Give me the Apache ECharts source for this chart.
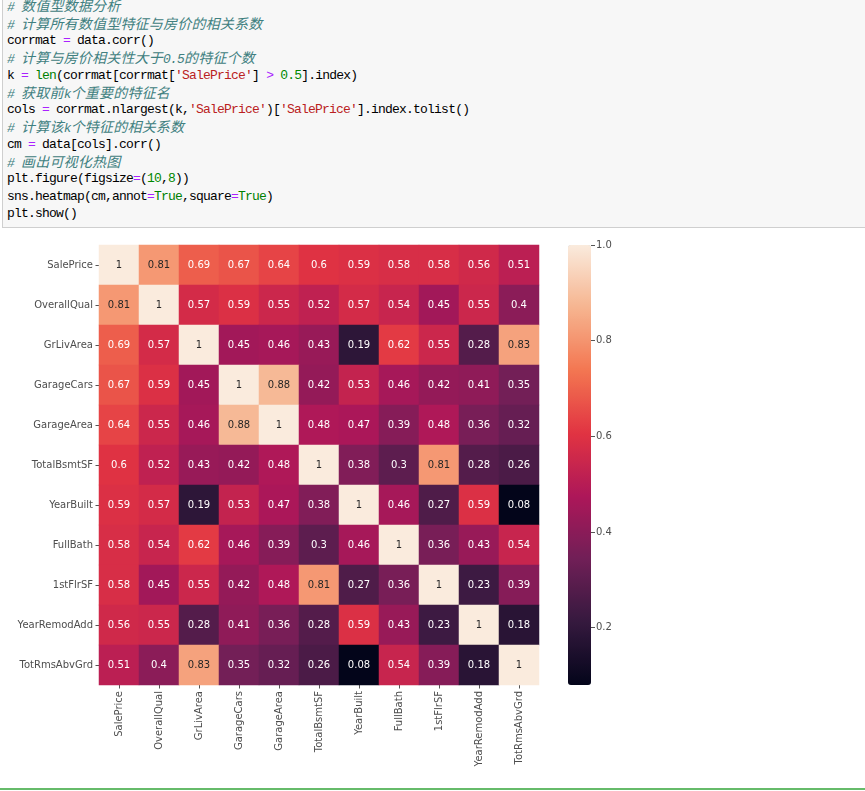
<!DOCTYPE html>
<html>
<head>
<meta charset="utf-8">
<script src="https://cdn.jsdelivr.net/npm/echarts@6/dist/echarts.min.js"></script>
<style>
  html, body { margin:0; padding:0; background:#ffffff; width:865px; height:791px; overflow:hidden; }
  #chart { position:absolute; left:0; top:0; width:865px; height:791px; }
  #code { position:absolute; left:2px; top:-1px; width:880px; height:229px; background:#f7f7f7;
          border:1px solid #cfcfcf; box-sizing:border-box; overflow:hidden; z-index:2; }
  #pre { position:absolute; left:4px; top:-2.6px; }
  .ln { height:17.3px; line-height:17.3px; overflow:visible; white-space:pre;
        font-family:'Liberation Mono','DejaVu Sans Mono',monospace; font-size:13px; letter-spacing:-0.8px; color:#000; }
  .cjk { font-family:'Noto Sans CJK SC',sans-serif; font-size:14px; letter-spacing:0.2px; line-height:17.3px; }
  .c { color:#408080; font-style:italic; }
  .o { color:#aa22ff; }
  .s { color:#ba2121; }
  .n { color:#008800; }
  .b { color:#008000; }
  #green { position:absolute; left:0; top:788px; width:865px; height:2px; background:#66bb6a; z-index:2; }
</style>
</head>
<body>
<div id="chart"></div>
<div id="code"><div id="pre"></div></div>
<div id="green"></div>
<script>
// ---------- data ----------
var cols = ['SalePrice','OverallQual','GrLivArea','GarageCars','GarageArea','TotalBsmtSF','YearBuilt','FullBath','1stFlrSF','YearRemodAdd','TotRmsAbvGrd'];
var rowSalePrice    = [1, 0.81, 0.69, 0.67, 0.64, 0.6, 0.59, 0.58, 0.58, 0.56, 0.51];
var rowOverallQual  = [0.81, 1, 0.57, 0.59, 0.55, 0.52, 0.57, 0.54, 0.45, 0.55, 0.4];
var rowGrLivArea    = [0.69, 0.57, 1, 0.45, 0.46, 0.43, 0.19, 0.62, 0.55, 0.28, 0.83];
var rowGarageCars   = [0.67, 0.59, 0.45, 1, 0.88, 0.42, 0.53, 0.46, 0.42, 0.41, 0.35];
var rowGarageArea   = [0.64, 0.55, 0.46, 0.88, 1, 0.48, 0.47, 0.39, 0.48, 0.36, 0.32];
var rowTotalBsmtSF  = [0.6, 0.52, 0.43, 0.42, 0.48, 1, 0.38, 0.3, 0.81, 0.28, 0.26];
var rowYearBuilt    = [0.59, 0.57, 0.19, 0.53, 0.47, 0.38, 1, 0.46, 0.27, 0.59, 0.08];
var rowFullBath     = [0.58, 0.54, 0.62, 0.46, 0.39, 0.3, 0.46, 1, 0.36, 0.43, 0.54];
var row1stFlrSF     = [0.58, 0.45, 0.55, 0.42, 0.48, 0.81, 0.27, 0.36, 1, 0.23, 0.39];
var rowYearRemodAdd = [0.56, 0.55, 0.28, 0.41, 0.36, 0.28, 0.59, 0.43, 0.23, 1, 0.18];
var rowTotRmsAbvGrd = [0.51, 0.4, 0.83, 0.35, 0.32, 0.26, 0.08, 0.54, 0.39, 0.18, 1];
var colorbarTicks = [0.2, 0.4, 0.6, 0.8, 1.0];
var colorbarMin = 0.08, colorbarMax = 1.0;

// ---------- code cell ----------
var codeLines = [
  [['c','# 数值型数据分析']],
  [['c','# 计算所有数值型特征与房价的相关系数']],
  [['','corrmat '],['o','='],['',' data.corr()']],
  [['c','# 计算与房价相关性大于0.5的特征个数']],
  [['','k '],['o','='],['',' '],['b','len'],['','(corrmat[corrmat['],['s',"'SalePrice'"],['','] '],['o','>'],['',' '],['n','0.5'],['','].index)']],
  [['c','# 获取前k个重要的特征名']],
  [['','cols '],['o','='],['',' corrmat.nlargest(k,'],['s',"'SalePrice'"],['',')['],['s',"'SalePrice'"],['','].index.tolist()']],
  [['c','# 计算该k个特征的相关系数']],
  [['','cm '],['o','='],['',' data[cols].corr()']],
  [['c','# 画出可视化热图']],
  [['','plt.figure(figsize'],['o','='],['','('],['n','10'],['',','],['n','8'],['','))']],
  [['','sns.heatmap(cm,annot'],['o','='],['b','True'],['',',square'],['o','='],['b','True'],['',')']],
  [['','plt.show()']]
];
function esc(t){ return t.replace(/&/g,'&amp;').replace(/</g,'&lt;').replace(/>/g,'&gt;'); }
function wrapCjk(t){ return esc(t).replace(/([\u3000-\u9fff\uff00-\uffef]+)/g,'<span class="cjk">$1</span>'); }
document.getElementById('pre').innerHTML = codeLines.map(function(line){
  return '<div class="ln">' + line.map(function(tok){
    var h = wrapCjk(tok[1]);
    return tok[0] ? '<span class="'+tok[0]+'">'+h+'</span>' : h;
  }).join('') + '</div>';
}).join('');

// ---------- chart ----------
var rows = [rowSalePrice,rowOverallQual,rowGrLivArea,rowGarageCars,rowGarageArea,rowTotalBsmtSF,rowYearBuilt,rowFullBath,row1stFlrSF,rowYearRemodAdd,rowTotRmsAbvGrd];
var rocket = ['#03051a','#35193e','#701f57','#ad1759','#e13342','#f37651','#f6b48f','#faebdd'];
var data = [];
rows.forEach(function(r, yi){
  r.forEach(function(v, xi){
    data.push({ value:[xi, yi, v], label:{ color: v >= 0.78 ? '#262626' : '#ffffff' } });
  });
});
var tickColor = '#555555';
var lblFont = { fontFamily:'DejaVu Sans', fontSize:10, color:'#4d4d4d' };
var chart = echarts.init(document.getElementById('chart'), null, { renderer:'canvas' });
chart.setOption({
  animation:false,
  backgroundColor:'transparent',
  grid:[
    { left:99, top:245, width:440, height:440 },
    { left:568, top:245, width:23, height:440 }
  ],
  xAxis:[
    { type:'category', gridIndex:0, data:cols, position:'bottom',
      axisLine:{show:false}, splitLine:{show:false},
      axisTick:{show:true, alignWithLabel:true, length:3.5, lineStyle:{color:tickColor, width:1}},
      axisLabel:Object.assign({ rotate:90, margin:6, interval:0 }, lblFont) },
    { type:'value', gridIndex:1, show:false, min:0, max:1 }
  ],
  yAxis:[
    { type:'category', gridIndex:0, data:cols, inverse:true,
      axisLine:{show:false}, splitLine:{show:false},
      axisTick:{show:true, alignWithLabel:true, length:3.5, lineStyle:{color:tickColor, width:1}},
      axisLabel:Object.assign({ margin:6, interval:0 }, lblFont) },
    { type:'value', gridIndex:1, position:'right', min:colorbarMin, max:colorbarMax,
      axisLine:{show:false, onZero:false}, splitLine:{show:false},
      axisTick:{show:true, inside:false, length:4, lineStyle:{color:tickColor, width:1}, customValues:colorbarTicks},
      axisLabel:Object.assign({ margin:5, customValues:colorbarTicks, formatter:function(v){ return v.toFixed(1); } }, lblFont) }
  ],
  visualMap:{
    type:'continuous', seriesIndex:0, dimension:2, min:colorbarMin, max:colorbarMax,
    calculable:false, left:568, top:245, itemWidth:23, itemHeight:440, padding:0,
    text:null, showLabel:false, hoverLink:false,
    inRange:{ color:rocket }
  },
  series:[{
    type:'heatmap', xAxisIndex:0, yAxisIndex:0, data:data,
    label:{ show:true, fontFamily:'DejaVu Sans', fontSize:10,
      formatter:function(p){ return String(p.value[2]); } },
    emphasis:{ disabled:true }
  }]
});
</script>
</body>
</html>
